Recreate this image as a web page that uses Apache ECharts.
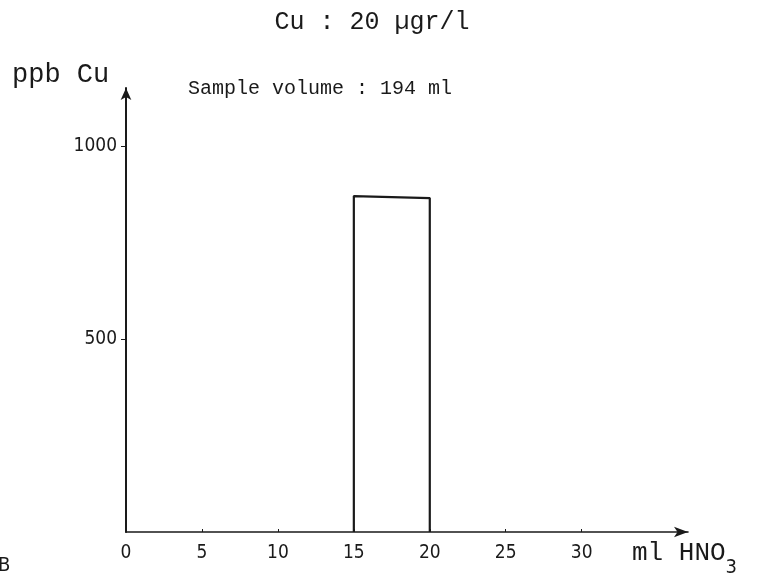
<!DOCTYPE html>
<html><head><meta charset="utf-8">
<script src="https://cdn.jsdelivr.net/npm/echarts@6/dist/echarts.min.js"></script>
<style>html,body{margin:0;padding:0;background:#fff}#c{width:760px;height:574px}</style>
</head><body><div id="c"></div>
<script>
// data
const xTickValues = [0, 5, 10, 15, 20, 25, 30];
const yTickValues = [500, 1000];
const stepX = [15, 15, 20, 20];          // ml HNO3
const stepY = [0, 870, 865, 0];          // ppb Cu
const titleText = 'Cu : 20 \u00b5gr/l';
const noteText = 'Sample volume : 194 ml';
const yName = 'ppb Cu';
const xName = 'ml HNO';
const xNameSub = '3';

const chart = echarts.init(document.getElementById('c'));
const ink = '#1a1a1a';
const mono = '"Liberation Mono","DejaVu Sans Mono",monospace';
const narrow = '"DejaVu Sans Condensed","Liberation Sans Narrow",sans-serif';

chart.setOption({
  backgroundColor: '#fff',
  animation: false,
  grid: { left: 126, right: 72, top: 88, bottom: 42 },
  xAxis: {
    type: 'value', min: 0, max: 37, interval: 5,
    axisLine: { show: true, lineStyle: { color: ink, width: 1.6 }, symbol: ['none', 'arrow'], symbolSize: [8, 14] },
    axisTick: { show: true, inside: true, length: 3, customValues: xTickValues.slice(1), lineStyle: { color: ink } },
    axisLabel: { customValues: xTickValues, margin: 12, color: ink, fontFamily: narrow, fontSize: 19,
                 formatter: v => String(v) },
    splitLine: { show: false }
  },
  yAxis: {
    type: 'value', min: 0, max: 1150, interval: 500,
    axisLine: { show: true, lineStyle: { color: ink, width: 2 }, symbol: ['none', 'arrow'], symbolSize: [8, 12] },
    axisTick: { show: true, inside: false, length: 5, customValues: yTickValues, lineStyle: { color: ink } },
    axisLabel: { customValues: yTickValues, margin: 9, color: ink, fontFamily: narrow, fontSize: 19,
                 formatter: v => String(v) },
    splitLine: { show: false }
  },
  series: [{
    type: 'line',
    data: stepX.map((x, i) => [x, stepY[i]]),
    symbol: 'none',
    lineStyle: { color: ink, width: 2.2 },
    z: 5
  }],
  graphic: [
    { type: 'text', x: 372, y: 22, style: { text: titleText, font: '25px ' + mono, fill: ink, textAlign: 'center', textVerticalAlign: 'middle' } },
    { type: 'text', x: 320, y: 89, style: { text: noteText, font: '20px ' + mono, fill: ink, textAlign: 'center', textVerticalAlign: 'middle' } },
    { type: 'text', x: 12, y: 75, style: { text: yName, font: '27px ' + mono, fill: ink, textAlign: 'left', textVerticalAlign: 'middle' } },
    { type: 'text', x: 632, y: 553, style: {
        text: '{a|' + xName + '}{s|' + xNameSub + '}',
        textVerticalAlign: 'middle',
        rich: {
          a: { font: '26px ' + mono, fill: ink, color: ink },
          s: { font: '20px ' + narrow, fill: ink, color: ink, padding: [30, 0, 0, 0] }
        }
      } },
    { type: 'text', x: -2, y: 566, style: { text: 'B', font: '20px ' + narrow, fill: ink, textVerticalAlign: 'middle' } }
  ]
});
</script></body></html>
